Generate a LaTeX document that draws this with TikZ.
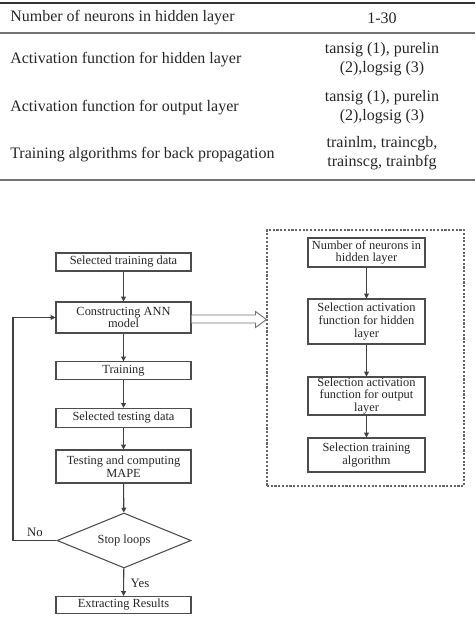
\documentclass[tikz,border=0pt]{standalone}
\usepackage{fontspec}
\setmainfont{Liberation Serif}
\usetikzlibrary{shapes.geometric,arrows.meta,calc}

\tikzset{
  tabtext/.style={font=\fontsize{12}{14}\selectfont, inner sep=0pt, text=black!85},
  tabrule/.style={draw=black!55, line width=1.1pt},
  flowbox/.style={draw=black!70, line width=0.8pt, inner sep=0pt, align=center,
    font=\fontsize{9.3}{9.4}\selectfont, text=black!85},
  leftbox/.style={flowbox, minimum width=101.25pt},
  rightbox/.style={flowbox, minimum width=87.75pt},
  decision/.style={flowbox, diamond, aspect=2.45, minimum width=100.5pt, minimum height=41.25pt},
  flowarrow/.style={draw=black!75, line width=0.8pt, -{Triangle[length=3.6pt,width=3.6pt]}},
  hollowarrow/.style={draw=black!55, line width=0.7pt, fill=white},
  groupframe/.style={draw=black!60, line width=0.8pt, dash pattern=on 1.6pt off 1.2pt},
  lbl/.style={font=\fontsize{9.6}{11}\selectfont, inner sep=0pt, text=black!85}
}

\begin{document}
\begin{tikzpicture}[x=0.75pt, y=-0.75pt]
  \useasboundingbox (0,0) rectangle (475,617);

  % ---------- parameter table ----------
  \draw[tabrule, draw=black!80] (0,3) -- (475,3);
  \draw[tabrule, line width=0.8pt] (0,33) -- (475,33);
  \draw[tabrule] (0,180) -- (475,180);

  \node[tabtext, anchor=west] (r1a) at (10,18) {Number of neurons in hidden layer};
  \node[tabtext] (r1b) at (382,18) {1-30};

  \node[tabtext, anchor=west] (r2a) at (10,60) {Activation function for hidden layer};
  \node[tabtext, align=center] (r2b) at (382,59.5) {tansig (1), purelin\\(2),logsig (3)};

  \node[tabtext, anchor=west] (r3a) at (10,108) {Activation function for output layer};
  \node[tabtext, align=center] (r3b) at (382,107.5) {tansig (1), purelin\\(2),logsig (3)};

  \node[tabtext, anchor=west] (r4a) at (10,155) {Training algorithms for back propagation};
  \node[tabtext, align=center] (r4b) at (382,153.5) {trainlm, traincgb,\\trainscg, trainbfg};

  % ---------- main loop ----------
  \node[leftbox, minimum height=13.5pt] (sel)   at (123.5,262)   {Selected training data};
  \node[leftbox, minimum height=23.25pt] (ann)  at (123.5,317.5) {Constructing ANN\\model};
  \node[leftbox, minimum height=13pt] (trn)     at (123.5,370.5) {Training};
  \node[leftbox, minimum height=14.5pt] (tst)   at (123.5,418)   {Selected testing data};
  \node[leftbox, minimum height=24.75pt] (mape) at (123.5,466.5) {Testing and computing\\MAPE};
  \node[decision] (stop) at (124,540.5) {Stop loops};
  \node[leftbox, minimum height=12.75pt] (res)  at (123.5,605)   {Extracting Results};

  \draw[flowarrow] (sel) -- (ann);
  \draw[flowarrow] (ann) -- (trn);
  \draw[flowarrow] (trn) -- (tst);
  \draw[flowarrow] (tst) -- (mape);
  \draw[flowarrow] (mape) -- (stop);
  \draw[flowarrow] (stop) -- (res);

  \coordinate (back) at (13,540.5);
  \draw[flowarrow] (stop.west) -- (back) |- (ann.west);
  \node[lbl] (no)  at (35,532) {No};
  \node[lbl] (yes) at (140,583) {Yes};

  % ---------- network settings ----------
  \node[rightbox, minimum height=21.75pt] (n1) at (366.5,252.5) {Number of neurons in\\hidden layer};
  \node[rightbox, minimum height=33.75pt] (n2) at (366.5,321.5) {Selection activation\\function for hidden\\layer};
  \node[rightbox, minimum height=28.5pt] (n3) at (366.5,396) {Selection activation\\function for output\\layer};
  \node[rightbox, minimum height=25.5pt] (n4) at (366.5,455) {Selection training\\algorithm};

  \draw[flowarrow] (n1) -- (n2);
  \draw[flowarrow] (n2) -- (n3);
  \draw[flowarrow] (n3) -- (n4);

  \node[groupframe, inner sep=0pt, minimum width=147.75pt, minimum height=192pt]
    (grp) at (365.5,358) {};

  % hollow arrow from the model box to the settings frame
  \coordinate (hstart) at ($(ann.east)+(0,1.5)$);
  \coordinate (htip) at ($(grp.west |- ann.east)+(0,2)$);
  \draw[hollowarrow]
    ($(hstart)+(0,-4)$) -- ($(htip)+(-11,-4.5)$) -- ($(htip)+(-11,-8)$)
    -- (htip) -- ($(htip)+(-11,8)$) -- ($(htip)+(-11,3.5)$)
    -- ($(hstart)+(0,4)$);
\end{tikzpicture}
\end{document}
